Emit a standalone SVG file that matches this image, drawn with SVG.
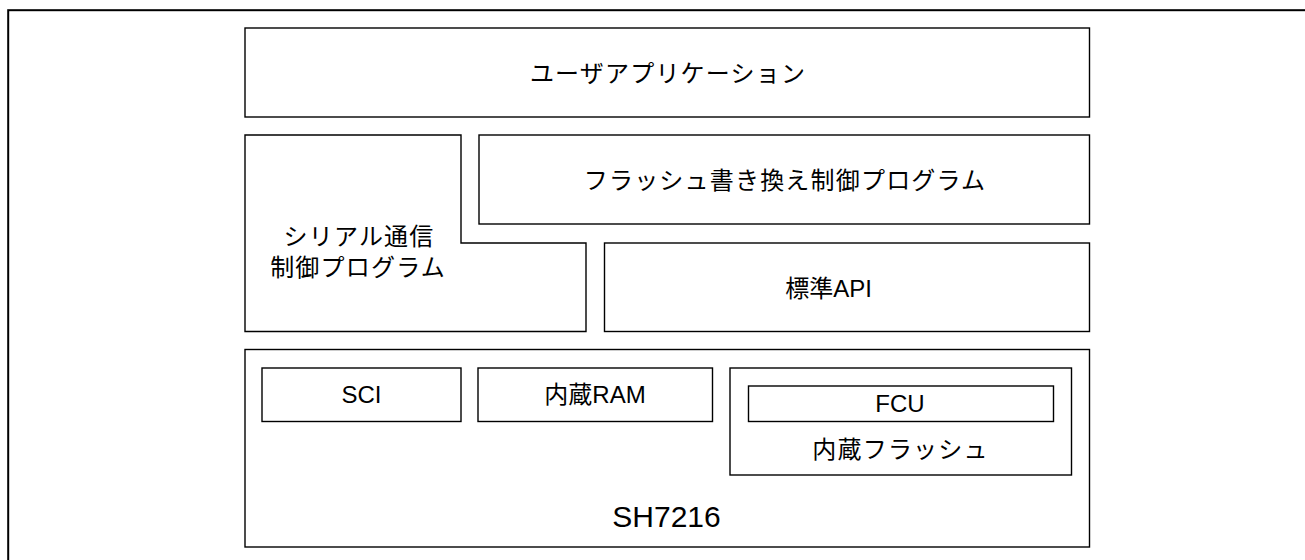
<svg xmlns="http://www.w3.org/2000/svg" width="1305" height="560" viewBox="0 0 1305 560">
<style>
.b{fill:#fff;stroke:#000;stroke-width:1.4}
.t{font-family:"Liberation Sans","Noto Sans CJK JP",sans-serif;font-size:24px;fill:#000;text-anchor:middle}
.j{letter-spacing:1.2px}
</style>
<rect x="0" y="0" width="1305" height="560" fill="#fff"/>
<rect id="frame" x="8.2" y="10.2" width="1400" height="700" fill="none" stroke="#000" stroke-width="2"/>
<g id="user-app">
<rect class="b" x="245" y="28" width="844.5" height="89"/>
<text class="t j" x="668" y="81.5">ユーザアプリケーション</text>
</g>
<g id="serial">
<polygon class="b" points="245,135 461,135 461,243 586,243 586,331.5 245,331.5"/>
<text class="t j" x="359" y="244.5">シリアル通信</text>
<text class="t j" x="358" y="276.3">制御プログラム</text>
</g>
<g id="flash-prog">
<rect class="b" x="479" y="135" width="610.5" height="89"/>
<text class="t j" x="785" y="188.5">フラッシュ書き換え制御プログラム</text>
</g>
<g id="std-api">
<rect class="b" x="604.5" y="243" width="485" height="88.5"/>
<text class="t" x="828.5" y="296.5">標準API</text>
</g>
<g id="sh7216">
<rect class="b" x="245" y="349.5" width="844.5" height="197.5"/>
<text class="t" x="666.5" y="526.5" style="font-size:30px">SH7216</text>
</g>
<g id="sci">
<rect class="b" x="262" y="368" width="199" height="53.5"/>
<text class="t" x="361.5" y="403">SCI</text>
</g>
<g id="ram">
<rect class="b" x="478" y="368" width="234.5" height="53.5"/>
<text class="t" x="595" y="403">内蔵RAM</text>
</g>
<g id="flash">
<rect class="b" x="730" y="368" width="341.5" height="107"/>
<text class="t j" x="900.5" y="458">内蔵フラッシュ</text>
</g>
<g id="fcu">
<rect class="b" x="748.5" y="386" width="305" height="35.5"/>
<text class="t" x="900" y="411.5">FCU</text>
</g>
<g id="connectors"/>
</svg>
